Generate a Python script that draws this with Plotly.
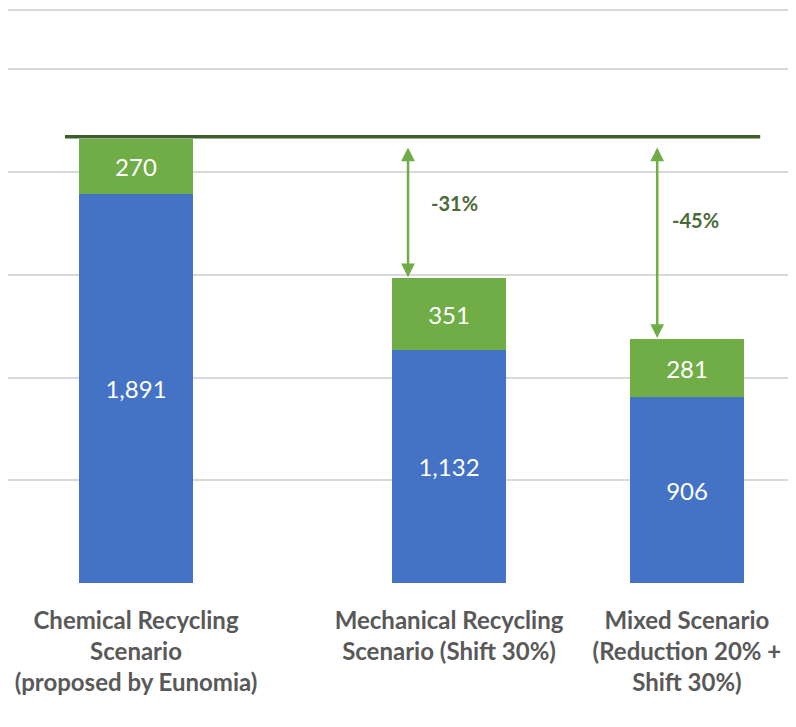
import plotly.graph_objects as go

# ---- data ----
categories = [
    "Chemical Recycling<br>Scenario<br>(proposed by Eunomia)",
    "Mechanical Recycling<br>Scenario (Shift 30%)",
    "Mixed Scenario<br>(Reduction 20% +<br>Shift 30%)",
]
blue_values = [1891, 1132, 906]
green_values = [270, 351, 281]

# ---- layout helpers (positions of category slots on numeric axis) ----
x_pos = [0.0, 1.0, 1.76]
bar_width = 0.365

totals = [b + g for b, g in zip(blue_values, green_values)]
ref_total = totals[0]

BLUE = "#4472C4"
GREEN = "#70AD47"
DARK_GREEN = "#3B5E2B"
LABEL_GREEN = "#4A6B38"
GRID = "#D9D9D9"
FONT = "Lato"

fig = go.Figure()
fig.add_trace(go.Bar(
    x=x_pos, y=blue_values, width=bar_width,
    marker=dict(color=BLUE, line=dict(width=0)),
    text=[f"{v:,}" for v in blue_values], textposition="inside",
    insidetextanchor="middle",
    textfont=dict(family=FONT, size=24, color="white"),
    hoverinfo="skip",
))
fig.add_trace(go.Bar(
    x=x_pos, y=green_values, width=bar_width,
    marker=dict(color=GREEN, line=dict(width=0)),
    text=[f"{v:,}" for v in green_values], textposition="inside",
    insidetextanchor="middle",
    textfont=dict(family=FONT, size=24, color="white"),
    hoverinfo="skip",
))

# reference line at chemical total
fig.add_trace(go.Scatter(
    x=[-0.227, 1.994], y=[ref_total + 10, ref_total + 10], mode="lines",
    line=dict(color=DARK_GREEN, width=3.5), hoverinfo="skip",
))

# double arrows and percentage labels
arrow_x = [0.869, 1.665]
label_pos = [(1.019, 1849), (1.786, 1766)]
for i, (ax_, (lx, ly)) in enumerate(zip(arrow_x, label_pos), start=1):
    fig.add_annotation(
        x=ax_, y=totals[i], ax=ax_, ay=ref_total,
        xref="x", yref="y", axref="x", ayref="y",
        text="", showarrow=True, arrowside="end+start",
        arrowhead=2, arrowsize=1.1, arrowwidth=2.5, arrowcolor=GREEN,
        standoff=1, startstandoff=7,
    )
    pct = round((totals[i] / ref_total - 1) * 100)
    fig.add_annotation(
        x=lx, y=ly, xref="x", yref="y", text=f"<b>{pct}%</b>",
        showarrow=False, font=dict(family=FONT, size=20, color=LABEL_GREEN),
    )

fig.update_layout(
    barmode="stack",
    width=796, height=727,
    margin=dict(l=0, r=0, t=0, b=152),
    paper_bgcolor="white", plot_bgcolor="white",
    showlegend=False,
    bargap=0,
    xaxis=dict(
        range=[-0.409, 2.134],
        tickvals=x_pos, ticktext=[f"<b>{c}</b>" for c in categories],
        tickfont=dict(family=FONT, size=24, color="#595959"),
        showgrid=False, zeroline=False, showline=False,
        ticks="", ticklabelstandoff=21, fixedrange=True,
    ),
    yaxis=dict(
        range=[0, 2798],
        tickvals=[0, 500, 1000, 1500, 2000, 2500, 2786],
        showticklabels=False,
        showgrid=True, gridcolor=GRID, gridwidth=1.5,
        zeroline=False, showline=False, ticks="", fixedrange=True,
    ),
)

fig.write_html("out.html")
